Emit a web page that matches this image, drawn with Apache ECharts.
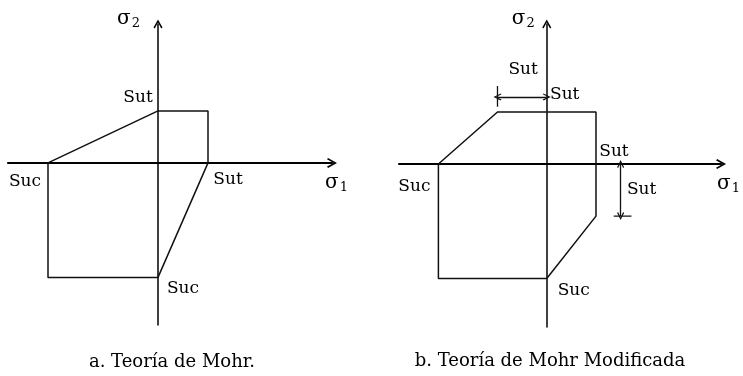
<!DOCTYPE html>
<html>
<head>
<meta charset="utf-8">
<script src="https://cdn.jsdelivr.net/npm/echarts@6/dist/echarts.min.js"></script>
<style>
  html, body { margin: 0; padding: 0; background: #fff; }
  #chart { width: 743px; height: 376px; }
</style>
</head>
<body>
<div id="chart"></div>
<script>
// Strengths, in units of Sut
const SUT = 1;
const SUC = 2.2;

// a. Mohr theory: chords join the axis intercepts in quadrants II and IV
const mohrEnvelope = [
  [-SUC, 0], [0, SUT], [SUT, SUT], [SUT, 0], [0, -SUC], [-SUC, -SUC], [-SUC, 0]
];

// b. Modified Mohr: Sut square extended, corners cut at ±Sut
const modifiedEnvelope = [
  [-SUC, 0], [-SUT, SUT], [SUT, SUT], [SUT, -SUT], [0, -SUC], [-SUC, -SUC], [-SUC, 0]
];

// Dimension lines of panel b, in (σ1, σ2)
const dimHorizontal = [[-SUT, 1.29], [0, 1.29]];
const dimHorizontalTick = [[-SUT, 1.10], [-SUT, 1.50]];
const dimVertical = [[1.5, 0], [1.5, -SUT]];
const dimVerticalTick = [[1.36, -SUT], [1.72, -SUT]];

// Annotations: text and the point each one belongs to
const labelsA = [
  { key: 'sutTop', text: 'Sut', at: [0, SUT] },
  { key: 'sucLeft', text: 'Suc', at: [-SUC, 0] },
  { key: 'sutRight', text: 'Sut', at: [SUT, 0] },
  { key: 'sucBottom', text: 'Suc', at: [0, -SUC] }
];
const labelsB = [
  { key: 'dimTop', text: 'Sut', at: [-SUT / 2, 1.29] },
  { key: 'sutTop', text: 'Sut', at: [0, SUT] },
  { key: 'sutRight', text: 'Sut', at: [SUT, 0] },
  { key: 'dimRight', text: 'Sut', at: [1.5, -SUT / 2] },
  { key: 'sucLeft', text: 'Suc', at: [-SUC, 0] },
  { key: 'sucBottom', text: 'Suc', at: [0, -SUC] }
];
const captions = ['a. Teoría de Mohr.', 'b. Teoría de Mohr Modificada'];
const axisNames = ['σ{n|1}', 'σ{n|2}'];

// ---- styling / layout ----
const FONT = 'DejaVu Serif';
const INK = '#000';
const OPEN_ARROW = 'path://M5,0 L10,9 L8.6,10 L5,3.4 L1.4,10 L0,9 Z';

const labelOffsets = {
  a: { sutTop: [-20, -13], sucLeft: [-23, 19], sutRight: [20, 17], sucBottom: [25, 11] },
  b: { dimTop: [1, -27], sutTop: [18, -17], sutRight: [18, -12], dimRight: [21, 0], sucLeft: [-24, 23], sucBottom: [27, 12] }
};

const nameRich = {
  n: { fontFamily: FONT, fontSize: 13, color: INK, padding: [9, 0, 0, 1] }
};

function xAxisFor(gi, min, max, gap) {
  return {
    type: 'value', gridIndex: gi, min: min, max: max,
    axisTick: { show: false }, axisLabel: { show: false }, splitLine: { show: false },
    axisLine: {
      onZero: true, symbol: ['none', OPEN_ARROW], symbolSize: [10, 12],
      lineStyle: { color: '#000', width: 2.2 }
    },
    name: axisNames[0], nameLocation: 'end', nameGap: gap,
    nameTextStyle: { fontFamily: FONT, fontSize: 20, color: INK, align: 'left', verticalAlign: 'top', padding: [9, 0, 0, 0], rich: nameRich }
  };
}
function yAxisFor(gi, min, max, padRight) {
  return {
    type: 'value', gridIndex: gi, min: min, max: max,
    axisTick: { show: false }, axisLabel: { show: false }, splitLine: { show: false },
    axisLine: {
      onZero: true, symbol: ['none', OPEN_ARROW], symbolSize: [9, 12],
      lineStyle: { color: '#000', width: 1.5 }
    },
    name: axisNames[1], nameLocation: 'end', nameGap: -6,
    nameTextStyle: { fontFamily: FONT, fontSize: 20, color: INK, align: 'right', verticalAlign: 'bottom', padding: [0, padRight, 0, 0], rich: nameRich }
  };
}

function envelope(gi, pts) {
  return {
    type: 'line', xAxisIndex: gi, yAxisIndex: gi, data: pts,
    symbol: 'none', silent: true,
    lineStyle: { color: '#111', width: 1.5 }
  };
}

function tags(gi, list, offsets) {
  return {
    type: 'scatter', xAxisIndex: gi, yAxisIndex: gi, symbolSize: 0, silent: true,
    itemStyle: { opacity: 1 },
    data: list.map(function (l) {
      return {
        value: l.at,
        label: {
          show: true, position: 'inside', formatter: l.text, offset: offsets[l.key],
          fontFamily: FONT, fontSize: 17, color: INK, align: 'center', verticalAlign: 'middle'
        }
      };
    })
  };
}

function segment(gi, pts) {
  return {
    type: 'line', xAxisIndex: gi, yAxisIndex: gi, data: pts,
    symbol: 'none', silent: true, lineStyle: { color: '#111', width: 1.3 }
  };
}

function dimension(gi, pts) {
  return {
    type: 'line', xAxisIndex: gi, yAxisIndex: gi, data: [], silent: true,
    markLine: {
      silent: true, animation: false,
      symbol: [OPEN_ARROW, OPEN_ARROW], symbolSize: [7, 8],
      label: { show: false },
      lineStyle: { color: '#111', width: 1.3, type: 'solid' },
      emphasis: { disabled: true },
      data: [[{ coord: pts[0] }, { coord: pts[1] }]]
    }
  };
}

const chart = echarts.init(document.getElementById('chart'), null, { renderer: 'canvas' });
chart.setOption({
  backgroundColor: '#fff',
  animation: false,
  grid: [
    { left: 8, top: 24, width: 324, height: 301 },
    { left: 399, top: 24, width: 327, height: 303 }
  ],
  xAxis: [xAxisFor(0, -3.0, 3.48, -7), xAxisFor(1, -3.0, 3.54, -4)],
  yAxis: [yAxisFor(0, -3.115, 2.67, 18), yAxisFor(1, -3.13, 2.69, 12)],
  series: [
    envelope(0, mohrEnvelope),
    envelope(1, modifiedEnvelope),
    segment(1, dimHorizontalTick),
    segment(1, dimVerticalTick),
    dimension(1, dimHorizontal),
    dimension(1, dimVertical),
    tags(0, labelsA, labelOffsets.a),
    tags(1, labelsB, labelOffsets.b)
  ],
  graphic: [
    { type: 'text', x: 172, y: 362, style: { text: captions[0], font: '18px "' + FONT + '"', fill: INK, align: 'center', verticalAlign: 'middle' } },
    { type: 'text', x: 550, y: 361, style: { text: captions[1], font: '18px "' + FONT + '"', fill: INK, align: 'center', verticalAlign: 'middle' } }
  ]
});
</script>
</body>
</html>
